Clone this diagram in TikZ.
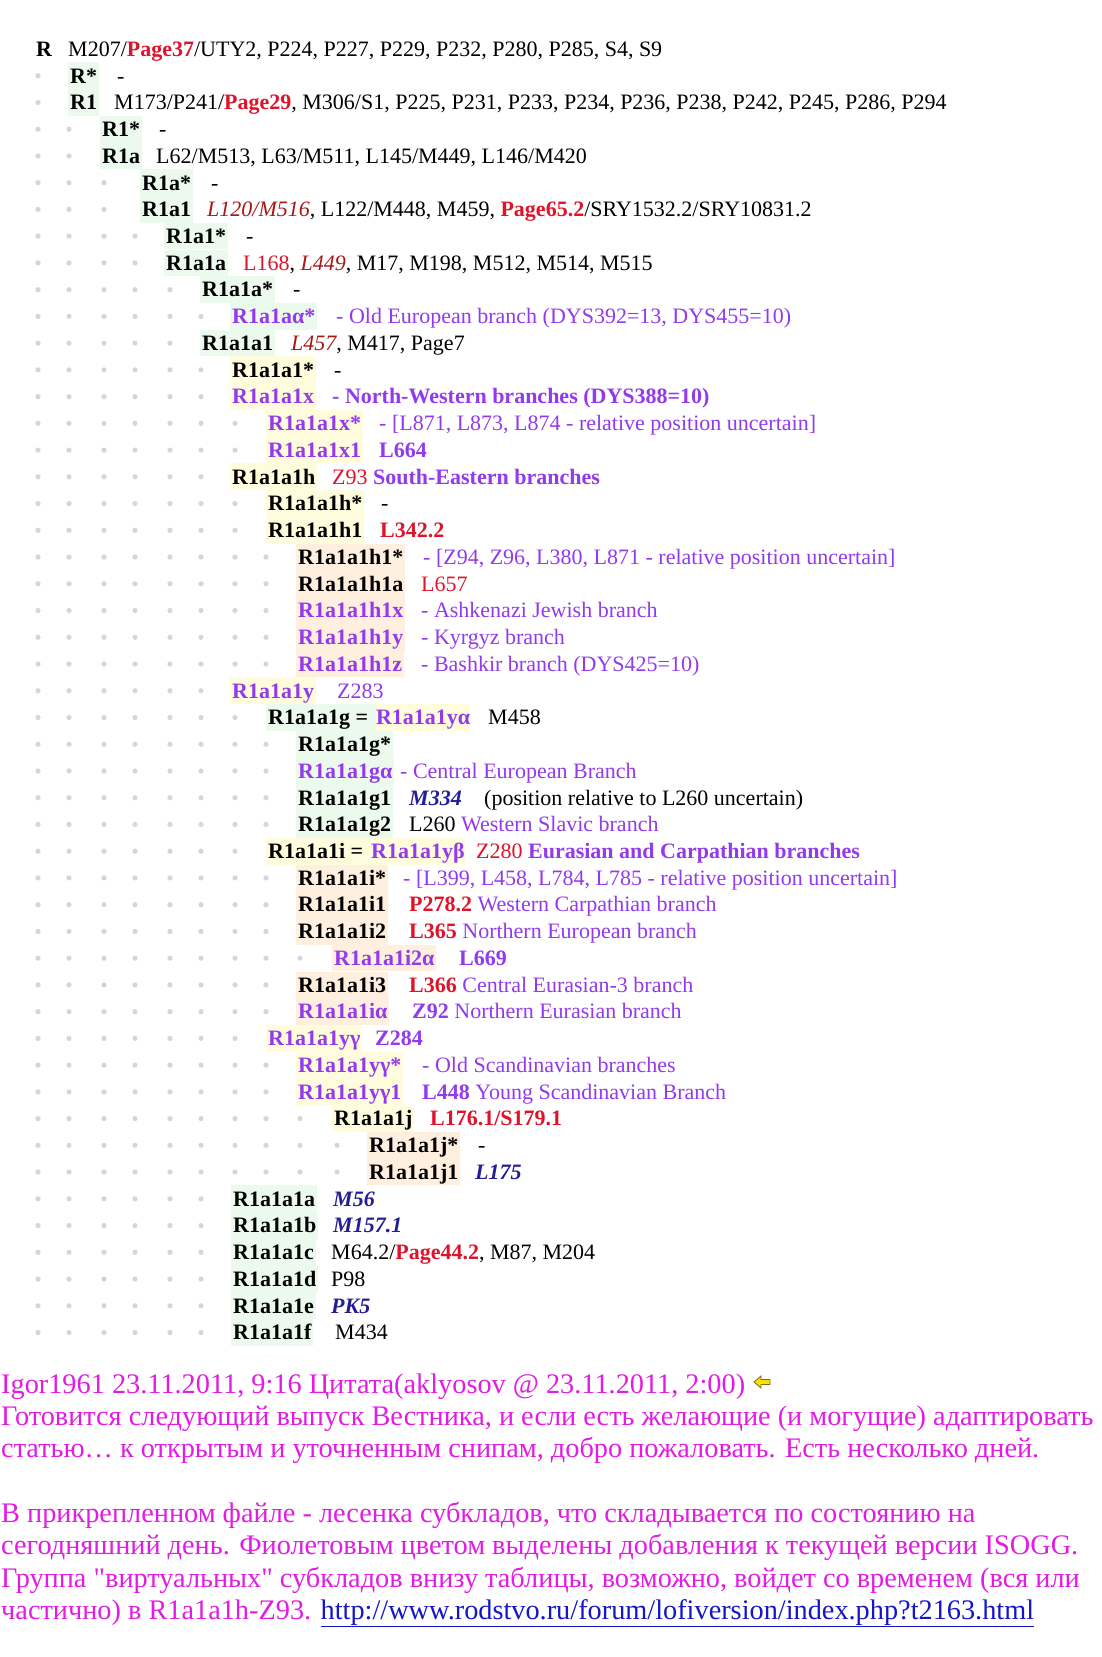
\documentclass[tikz,border=0pt]{standalone}
\usepackage{fontspec}
\setmainfont{Liberation Serif}
\usetikzlibrary{positioning}

\definecolor{hlgreen}{RGB}{236,249,237}
\definecolor{hlyellow}{RGB}{255,252,221}
\definecolor{hlpeach}{RGB}{255,239,222}
\definecolor{subviolet}{RGB}{146,58,236}
\definecolor{snpred}{RGB}{222,20,42}
\definecolor{snpdark}{RGB}{165,24,24}
\definecolor{snpblue}{RGB}{36,30,150}
\definecolor{postpink}{RGB}{226,28,226}
\definecolor{linkblue}{RGB}{22,22,200}
\definecolor{dotgrey}{RGB}{214,214,214}

\newcommand{\redb}[1]{{\color{snpred}\bfseries #1}}
\newcommand{\redn}[1]{{\color{snpred}#1}}
\newcommand{\dred}[1]{{\color{snpdark}\itshape #1}}
\newcommand{\blu}[1]{{\color{snpblue}\bfseries\itshape #1}}
\newcommand{\vio}[1]{{\color{subviolet}#1}}
\newcommand{\viob}[1]{{\color{subviolet}\bfseries #1}}

\begin{document}
\begin{tikzpicture}[x=1pt, y=-1pt,
    declare function={rowy(\r)=56.3+26.74*\r;},
    lab/.style={anchor=base west, inner xsep=2pt, inner ysep=0pt,
      text height=20.7pt, text depth=6pt,
      font=\fontsize{22}{26}\selectfont\bfseries},
    gl/.style={lab, fill=hlgreen},
    yl/.style={lab, fill=hlyellow},
    pl/.style={lab, fill=hlpeach},
    txt/.style={anchor=base west, inner sep=0pt, font=\fontsize{22}{26}\selectfont},
    post/.style={anchor=base west, inner sep=0pt, text=postpink,
      font=\fontsize{28.3}{32}\selectfont}]
  \fill[white] (0,0) rectangle (1102,1657);
  \useasboundingbox (0,0) rectangle (1102,1657);

  % grey dots in front of the rows
  \foreach \r/\n in {1/1,2/1,3/2,4/2,5/3,6/3,7/4,8/4,9/5,10/6,11/5,12/6,13/6,
      14/7,15/7,16/6,17/7,18/7,19/8,20/8,21/8,22/8,23/8,24/6,25/7,26/8,27/8,
      28/8,29/8,30/7,31/8,32/8,33/8,34/9,35/8,36/8,37/7,38/8,39/8,40/9,41/10,
      42/10,43/6,44/6,45/6,46/6,47/6,48/6} {
    \foreach \k in {1,...,\n} {
      \pgfmathsetmacro\dx{{38,69,104,135,170,201,235,266,300,337}[\k-1]}
      \fill[dotgrey] (\dx,{rowy(\r)-7.3}) circle (2.6pt);
    }
  }

  % R, R1, R1a, R1a1, R1a1a
  \node[lab] (r0) at (34,{rowy(0)}) {R};
  \node[txt] (t0) at (68,{rowy(0)}) {M207/\redb{Page37}/UTY2, P224, P227, P229, P232, P280, P285, S4, S9};
  \node[gl] (r1) at (68,{rowy(1)}) {R*};
  \node[txt] (t1) at (117,{rowy(1)}) {-};
  \node[gl] (r2) at (68,{rowy(2)}) {R1};
  \node[txt] (t2) at (114,{rowy(2)}) {M173/P241/\redb{Page29}, M306/S1, P225, P231, P233, P234, P236, P238, P242, P245, P286, P294};
  \node[gl] (r3) at (100,{rowy(3)}) {R1*};
  \node[txt] (t3) at (159,{rowy(3)}) {-};
  \node[gl] (r4) at (100,{rowy(4)}) {R1a};
  \node[txt] (t4) at (156,{rowy(4)}) {L62/M513, L63/M511, L145/M449, L146/M420};
  \node[gl] (r5) at (140,{rowy(5)}) {R1a*};
  \node[txt] (t5) at (211,{rowy(5)}) {-};
  \node[gl] (r6) at (140,{rowy(6)}) {R1a1};
  \node[txt] (t6) at (207,{rowy(6)}) {\dred{L120/M516}, L122/M448, M459, \redb{Page65.2}/SRY1532.2/SRY10831.2};
  \node[gl] (r7) at (164,{rowy(7)}) {R1a1*};
  \node[txt] (t7) at (246,{rowy(7)}) {-};
  \node[gl] (r8) at (164,{rowy(8)}) {R1a1a};
  \node[txt] (t8) at (243,{rowy(8)}) {\redn{L168}, \dred{L449}, M17, M198, M512, M514, M515};
  \node[gl] (r9) at (200,{rowy(9)}) {R1a1a*};
  \node[txt] (t9) at (293,{rowy(9)}) {-};
  \node[gl, text=subviolet] (r10) at (230,{rowy(10)}) {R1a1aα*};
  \node[txt, text=subviolet] (t10) at (336,{rowy(10)}) {- Old European branch (DYS392=13, DYS455=10)};
  \node[gl] (r11) at (200,{rowy(11)}) {R1a1a1};
  \node[txt] (t11) at (291,{rowy(11)}) {\dred{L457}, M417, Page7};

  % north-western and south-eastern branches
  \node[yl] (r12) at (230,{rowy(12)}) {R1a1a1*};
  \node[txt] (t12) at (334,{rowy(12)}) {-};
  \node[yl, text=subviolet] (r13) at (230,{rowy(13)}) {R1a1a1x};
  \node[txt] (t13) at (332,{rowy(13)}) {\viob{- North-Western branches (DYS388=10)}};
  \node[yl, text=subviolet] (r14) at (266,{rowy(14)}) {R1a1a1x*};
  \node[txt, text=subviolet] (t14) at (379,{rowy(14)}) {- [L871, L873, L874 - relative position uncertain]};
  \node[yl, text=subviolet] (r15) at (266,{rowy(15)}) {R1a1a1x1};
  \node[txt] (t15) at (379,{rowy(15)}) {\viob{L664}};
  \node[yl] (r16) at (230,{rowy(16)}) {R1a1a1h};
  \node[txt] (t16) at (332,{rowy(16)}) {\redn{Z93} \viob{South-Eastern branches}};
  \node[yl] (r17) at (266,{rowy(17)}) {R1a1a1h*};
  \node[txt] (t17) at (381,{rowy(17)}) {-};
  \node[yl] (r18) at (266,{rowy(18)}) {R1a1a1h1};
  \node[txt] (t18) at (380,{rowy(18)}) {\redb{L342.2}};
  \node[pl] (r19) at (296,{rowy(19)}) {R1a1a1h1*};
  \node[txt, text=subviolet] (t19) at (423,{rowy(19)}) {- [Z94, Z96, L380, L871 - relative position uncertain]};
  \node[pl] (r20) at (296,{rowy(20)}) {R1a1a1h1a};
  \node[txt] (t20) at (421,{rowy(20)}) {\redn{L657}};
  \node[pl, text=subviolet] (r21) at (296,{rowy(21)}) {R1a1a1h1x};
  \node[txt, text=subviolet] (t21) at (421,{rowy(21)}) {- Ashkenazi Jewish branch};
  \node[pl, text=subviolet] (r22) at (296,{rowy(22)}) {R1a1a1h1y};
  \node[txt, text=subviolet] (t22) at (421,{rowy(22)}) {- Kyrgyz branch};
  \node[pl, text=subviolet] (r23) at (296,{rowy(23)}) {R1a1a1h1z};
  \node[txt, text=subviolet] (t23) at (421,{rowy(23)}) {- Bashkir branch (DYS425=10)};

  % Z283 and its sub-branches
  \node[yl, text=subviolet] (r24) at (230,{rowy(24)}) {R1a1a1y};
  \node[txt, text=subviolet] (t24) at (337,{rowy(24)}) {Z283};
  \node[gl] (r25) at (266,{rowy(25)}) {R1a1a1g =\kern5.5pt};
  \node[yl, text=subviolet, inner xsep=0pt] (r25b) at (r25.base east) {R1a1a1yα};
  \node[txt] (t25) at (488,{rowy(25)}) {M458};
  \node[gl] (r26) at (296,{rowy(26)}) {R1a1a1g*};
  \node[gl, text=subviolet] (r27) at (296,{rowy(27)}) {R1a1a1gα};
  \node[txt, text=subviolet] (t27) at (400,{rowy(27)}) {- Central European Branch};
  \node[gl] (r28) at (296,{rowy(28)}) {R1a1a1g1};
  \node[txt] (t28) at (409,{rowy(28)}) {\blu{M334}};
  \node[txt] (t28b) at (484,{rowy(28)}) {(position relative to L260 uncertain)};
  \node[gl] (r29) at (296,{rowy(29)}) {R1a1a1g2};
  \node[txt] (t29) at (409,{rowy(29)}) {L260 \vio{Western Slavic branch}};
  \node[yl] (r30) at (266,{rowy(30)}) {R1a1a1i =\kern5.5pt};
  \node[yl, text=subviolet, inner xsep=0pt] (r30b) at (r30.base east) {R1a1a1yβ};
  \node[txt] (t30) at (476,{rowy(30)}) {\redn{Z280} \viob{Eurasian and Carpathian branches}};
  \node[pl] (r31) at (296,{rowy(31)}) {R1a1a1i*};
  \node[txt, text=subviolet] (t31) at (403,{rowy(31)}) {- [L399, L458, L784, L785 - relative position uncertain]};
  \node[pl] (r32) at (296,{rowy(32)}) {R1a1a1i1};
  \node[txt] (t32) at (409,{rowy(32)}) {\redb{P278.2} \vio{Western Carpathian branch}};
  \node[pl] (r33) at (296,{rowy(33)}) {R1a1a1i2};
  \node[txt] (t33) at (409,{rowy(33)}) {\redb{L365} \vio{Northern European branch}};
  \node[pl, text=subviolet] (r34) at (332,{rowy(34)}) {R1a1a1i2α};
  \node[txt] (t34) at (459,{rowy(34)}) {\viob{L669}};
  \node[pl] (r35) at (296,{rowy(35)}) {R1a1a1i3};
  \node[txt] (t35) at (409,{rowy(35)}) {\redb{L366} \vio{Central Eurasian-3 branch}};
  \node[pl, text=subviolet] (r36) at (296,{rowy(36)}) {R1a1a1iα};
  \node[txt] (t36) at (412,{rowy(36)}) {\viob{Z92} \vio{Northern Eurasian branch}};
  \node[yl, text=subviolet] (r37) at (266,{rowy(37)}) {R1a1a1yγ};
  \node[txt] (t37) at (375,{rowy(37)}) {\viob{Z284}};
  \node[yl, text=subviolet] (r38) at (296,{rowy(38)}) {R1a1a1yγ*};
  \node[txt, text=subviolet] (t38) at (422,{rowy(38)}) {- Old Scandinavian branches};
  \node[yl, text=subviolet] (r39) at (296,{rowy(39)}) {R1a1a1yγ1};
  \node[txt] (t39) at (422,{rowy(39)}) {\viob{L448} \vio{Young Scandinavian Branch}};
  \node[yl] (r40) at (332,{rowy(40)}) {R1a1a1j};
  \node[txt] (t40) at (430,{rowy(40)}) {\redb{L176.1/S179.1}};
  \node[pl] (r41) at (367,{rowy(41)}) {R1a1a1j*};
  \node[txt] (t41) at (478,{rowy(41)}) {-};
  \node[pl] (r42) at (367,{rowy(42)}) {R1a1a1j1};
  \node[txt] (t42) at (475,{rowy(42)}) {\blu{L175}};

  % virtual subclades at the bottom
  \node[gl] (r43) at (231,{rowy(43)}) {R1a1a1a};
  \node[txt] (t43) at (333,{rowy(43)}) {\blu{M56}};
  \node[gl] (r44) at (231,{rowy(44)}) {R1a1a1b};
  \node[txt] (t44) at (333,{rowy(44)}) {\blu{M157.1}};
  \node[gl] (r45) at (231,{rowy(45)}) {R1a1a1c};
  \node[txt] (t45) at (331,{rowy(45)}) {M64.2/\redb{Page44.2}, M87, M204};
  \node[gl] (r46) at (231,{rowy(46)}) {R1a1a1d};
  \node[txt] (t46) at (331,{rowy(46)}) {P98};
  \node[gl] (r47) at (231,{rowy(47)}) {R1a1a1e};
  \node[txt] (t47) at (331,{rowy(47)}) {\blu{PK5}};
  \node[gl] (r48) at (231,{rowy(48)}) {R1a1a1f};
  \node[txt] (t48) at (335,{rowy(48)}) {M434};

  % forum post below the table
  \node[post] (p1) at (1,1393) {Igor1961 23.11.2011, 9:16 Цитата(aklyosov @ 23.11.2011, 2:00)};
  \filldraw[fill=yellow!80!orange, draw=olive!80!black, line width=0.8pt]
    (754,1382) -- (761,1376) -- (761,1379.5) -- (770,1379.5) -- (770,1384.5)
    -- (761,1384.5) -- (761,1388) -- cycle;
  \node[post] (p2) at (1,1425) {Готовится следующий выпуск Вестника, и если есть желающие (и могущие) адаптировать};
  \node[post] (p3) at (1,1457) {статью… к открытым и уточненным снипам, добро пожаловать. Есть несколько дней.};
  \node[post] (p4) at (1,1522) {В прикрепленном файле - лесенка субкладов, что складывается по состоянию на};
  \node[post] (p5) at (1,1554) {сегодняшний день. Фиолетовым цветом выделены добавления к текущей версии ISOGG.};
  \node[post] (p6) at (1,1587) {Группа \textquotedbl виртуальных\textquotedbl{} субкладов внизу таблицы, возможно, войдет со временем (вся или};
  \node[post] (p7) at (1,1619) {частично) в R1a1a1h-Z93. {\color{linkblue}\underline{http://www.rodstvo.ru/forum/lofiversion/index.php?t2163.html}}};
\end{tikzpicture}
\end{document}
